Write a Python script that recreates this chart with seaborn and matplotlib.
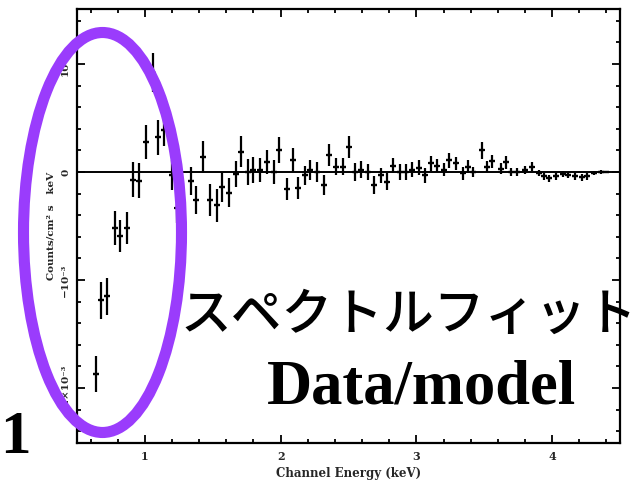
import numpy as np
import pandas as pd
import matplotlib
matplotlib.use("Agg")
import matplotlib.pyplot as plt
from matplotlib.patches import Ellipse
from matplotlib.ticker import MultipleLocator, FixedLocator, FixedFormatter
import seaborn as sns

# Residuals of the spectral fit (counts/cm^2 s keV, in units of 1e-3)
energy_kev = [0.64, 0.68, 0.72, 0.78, 0.82, 0.87, 0.91, 0.96, 1.01, 1.06,
              1.10, 1.14, 1.20, 1.24, 1.34, 1.38, 1.43, 1.48, 1.53, 1.57,
              1.62, 1.67, 1.71, 1.76, 1.80, 1.85, 1.90, 1.95, 1.99, 2.05,
              2.09, 2.13, 2.18, 2.22, 2.27, 2.32, 2.36, 2.41, 2.46, 2.50,
              2.55, 2.59, 2.64, 2.69, 2.74, 2.78, 2.83, 2.88, 2.92, 2.97,
              3.02, 3.06, 3.11, 3.15, 3.20, 3.24, 3.29, 3.34, 3.38, 3.42,
              3.48, 3.52, 3.56, 3.62, 3.66, 3.70, 3.74, 3.80, 3.85, 3.90,
              3.94, 3.98, 4.03, 4.08, 4.12, 4.17, 4.22, 4.26, 4.31, 4.36,
              4.40]
resid_e3 = [-1.87, -1.19, -1.15, -0.52, -0.59, -0.52, -0.07, -0.08, 0.28, 0.92,
            0.32, 0.39, -0.03, -0.33, -0.08, -0.26, 0.14, -0.26, -0.31, -0.14,
            -0.19, -0.02, 0.19, 0.00, 0.02, 0.02, 0.09, 0.00, 0.20, -0.16,
            0.11, -0.15, -0.03, 0.02, 0.00, -0.12, 0.16, 0.05, 0.05, 0.23,
            0.00, 0.02, 0.00, -0.12, -0.03, -0.09, 0.06, 0.00, 0.00, 0.02,
            0.04, -0.03, 0.08, 0.06, 0.02, 0.11, 0.08, -0.01, 0.05, 0.00,
            0.20, 0.05, 0.10, 0.03, 0.09, 0.00, 0.00, 0.02, 0.05, -0.01,
            -0.04, -0.06, -0.04, -0.02, -0.03, -0.04, -0.05, -0.04, -0.01, 0.00,
            0.00]
resid_err_e3 = [0.17, 0.17, 0.17, 0.16, 0.15, 0.15, 0.16, 0.16, 0.16, 0.18,
                0.16, 0.15, 0.14, 0.14, 0.13, 0.13, 0.15, 0.15, 0.15, 0.14,
                0.13, 0.12, 0.14, 0.12, 0.12, 0.11, 0.11, 0.11, 0.12, 0.10,
                0.11, 0.10, 0.09, 0.09, 0.09, 0.09, 0.10, 0.08, 0.08, 0.10,
                0.08, 0.08, 0.07, 0.08, 0.07, 0.08, 0.07, 0.07, 0.07, 0.07,
                0.07, 0.07, 0.07, 0.06, 0.06, 0.07, 0.06, 0.06, 0.06, 0.05,
                0.08, 0.05, 0.06, 0.05, 0.06, 0.04, 0.04, 0.04, 0.04, 0.03,
                0.03, 0.03, 0.03, 0.03, 0.03, 0.03, 0.03, 0.03, 0.02, 0.015,
                0.01]
energy_halfwidth = 0.02

ytick_values = [-2, -1, 0, 1]
ytick_labels = ["\u22122\u00d710\u207b\u00b3", "\u221210\u207b\u00b3", "0", "10\u207b\u00b3"]
xtick_values = [1, 2, 3, 4]

df = pd.DataFrame({"energy": energy_kev, "resid": resid_e3, "err": resid_err_e3})

sns.set_theme(style="ticks")
plt.rcParams["font.family"] = ["DejaVu Serif"]

W, H = 642, 483
fig = plt.figure(figsize=(W / 100, H / 100), dpi=100)
ax = fig.add_axes([77 / W, 1 - 443 / H, (620 - 77) / W, (443 - 9) / H])

ax.errorbar(df["energy"], df["resid"], yerr=df["err"], xerr=energy_halfwidth,
            fmt="none", ecolor="black", elinewidth=1.6, capsize=0, zorder=3)
sns.scatterplot(data=df, x="energy", y="resid", ax=ax, marker="_", s=25,
                color="black", linewidth=1.6, zorder=4, legend=False)
ax.axhline(0, color="black", lw=1.4, zorder=2)

ax.set_xlim(0.5, 4.5)
ax.set_ylim(-2.51, 1.51)

ax.xaxis.set_major_locator(FixedLocator(xtick_values))
ax.xaxis.set_minor_locator(MultipleLocator(0.2))
ax.yaxis.set_major_locator(FixedLocator(ytick_values))
ax.yaxis.set_major_formatter(FixedFormatter(ytick_labels))
ax.yaxis.set_minor_locator(MultipleLocator(0.2))

ax.tick_params(which="both", direction="in", top=True, right=True,
               color="black", width=1.3)
ax.tick_params(which="major", length=6)
ax.tick_params(which="minor", length=3)
ax.tick_params(axis="x", which="major", pad=6, labelsize=8)
ax.tick_params(axis="y", which="major", pad=5, labelsize=7.5)
for lab in ax.get_xticklabels():
    lab.set_fontweight("bold")
for lab in ax.get_yticklabels():
    lab.set_fontweight("bold")
    lab.set_rotation(90)
    lab.set_va("center")

for sp in ax.spines.values():
    sp.set_linewidth(1.6)
    sp.set_color("black")

ax.set_xlabel("Channel Energy (keV)", fontsize=8.5, fontweight="bold", labelpad=3)
ax.set_ylabel("Counts/cm\u00b2 s   keV", fontsize=7.5, fontweight="bold", labelpad=4)

# Purple ellipse highlighting the low-energy residuals
fig.add_artist(Ellipse((102.5 / W, 1 - 232.5 / H), 158 / W, 400 / H,
                       transform=fig.transFigure, fill=False,
                       edgecolor="#9a3cfc", linewidth=8, zorder=10))

fig.text(180 / W, 1 - 315 / H, "スペクトルフィット", fontsize=36.5,
         family=["Noto Sans CJK JP", "DejaVu Sans"], fontweight=500,
         color="black", ha="left", va="center", zorder=11)
fig.text(421.5 / W, 1 - 403 / H, "Data/model", fontsize=45,
         family=["Liberation Serif"], fontweight="bold", color="black",
         ha="center", va="baseline", zorder=11)
fig.text(0, 1 - 453 / H, "1", fontsize=44,
         family=["Liberation Serif"], fontweight="bold", color="black",
         ha="left", va="baseline", zorder=11)

fig.savefig("out.png", dpi=100, facecolor="white")
